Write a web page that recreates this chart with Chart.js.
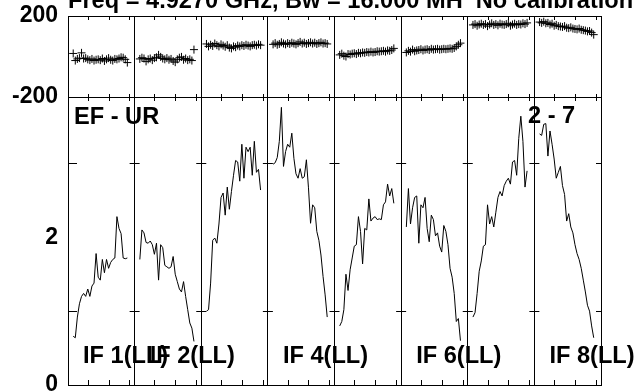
<!DOCTYPE html>
<html>
<head>
<meta charset="utf-8">
<script src="https://cdn.jsdelivr.net/npm/chart.js@4.4.1/dist/chart.umd.min.js"></script>
<style>
  html, body { margin: 0; padding: 0; background: #fff; }
</style>
</head>
<body>
<canvas id="c" width="639" height="392"></canvas>
<script>
const title = 'Freq = 4.9270 GHz, Bw = 16.000 MH  No calibration';
const baselineLabel = 'EF - UR';
const timeLabel = '2 - 7';
const panelLabels = ['IF 1(LL)', 'IF 2(LL)', '', 'IF 4(LL)', '', 'IF 6(LL)', '', 'IF 8(LL)'];

const channels = [3, 4, 5, 6, 7, 8, 9, 10, 11, 12, 13, 14, 15, 16, 17, 18, 19, 20, 21, 22, 23, 24, 25, 26, 27, 28, 29];
const chanTicks = [10, 20, 30];
const ampTicks = [1, 3];
const ampLabels = [0, 2];
const phaseLabels = [-200, 200];

const ampIF1 = [0.66, 0.64, 0.92, 1.10, 1.20, 1.24, 1.20, 1.30, 1.20, 1.34, 1.38, 1.78, 1.46, 1.42, 1.70, 1.52, 1.70, 1.58, 1.66, 1.70, 1.72, 2.28, 2.12, 2.05, 1.72, 1.71, 1.72];
const ampIF2 = [1.70, 2.10, 2.06, 1.93, 1.92, 1.95, 1.90, 1.77, 1.92, 1.42, 1.90, 1.86, 1.62, 1.60, 1.58, 1.60, 1.74, 1.50, 1.40, 1.30, 1.26, 1.40, 1.20, 1.02, 0.84, 0.77, 0.59];
const ampIF3 = [1.00, 1.02, 1.38, 1.96, 1.99, 1.92, 2.18, 2.54, 2.60, 2.30, 2.68, 2.38, 2.62, 2.84, 3.04, 3.02, 2.76, 3.26, 2.80, 3.22, 3.16, 3.22, 2.84, 3.30, 2.88, 2.92, 2.64];
const ampIF4 = [2.99, 3.01, 3.08, 3.30, 3.76, 2.96, 3.16, 3.26, 3.22, 3.41, 3.07, 2.86, 2.80, 2.93, 2.80, 2.82, 3.05, 2.67, 2.19, 2.44, 2.40, 2.08, 1.96, 1.76, 1.47, 1.22, 0.92];
const ampIF5 = [0.80, 0.86, 1.02, 1.50, 1.28, 1.56, 1.72, 1.88, 1.90, 2.28, 2.08, 1.64, 2.12, 2.10, 2.52, 2.22, 2.26, 2.28, 2.24, 2.25, 2.24, 2.44, 2.48, 2.72, 2.56, 2.66, 2.46];
const ampIF6 = [2.14, 2.66, 2.18, 2.40, 2.54, 2.56, 1.92, 2.44, 2.40, 2.54, 2.12, 1.94, 2.30, 2.24, 2.02, 2.06, 1.88, 1.80, 2.16, 2.08, 1.90, 1.58, 1.46, 1.24, 0.86, 0.90, 0.60];
const ampIF7 = [0.92, 0.98, 1.24, 1.54, 1.68, 1.88, 1.90, 2.44, 2.18, 2.28, 2.14, 2.34, 2.54, 2.62, 2.56, 2.70, 2.76, 2.80, 2.72, 3.02, 3.04, 2.84, 3.34, 3.64, 3.30, 2.68, 2.90];
const ampIF8 = [3.40, 3.38, 3.53, 3.54, 3.10, 3.44, 3.26, 3.06, 2.80, 2.88, 2.96, 2.70, 2.58, 2.22, 2.32, 2.14, 2.06, 1.90, 1.78, 1.70, 1.58, 1.42, 1.26, 1.08, 1.00, 0.80, 0.64];

const phaseIF1 = [15, -20, -12, -8, 18, -10, -8, -14, -18, -12, -20, -16, -14, -18, -10, -22, -14, -8, -16, -20, -12, -14, -10, -4, -6, -14, -30];
const phaseIF2 = [-12, -6, -10, -24, -14, -10, -18, -8, -4, 8, -2, -10, -14, -8, -16, -12, -22, -28, -14, -6, -2, -16, -10, -18, -14, -20, 34];
const phaseIF3 = [62, 50, 58, 52, 64, 56, 50, 60, 54, 48, 56, 44, 40, 50, 46, 54, 50, 56, 52, 58, 54, 50, 56, 58, 54, 60, 56];
const phaseIF4 = [60, 66, 58, 62, 70, 64, 60, 66, 62, 68, 64, 60, 66, 72, 64, 68, 62, 66, 70, 64, 68, 62, 66, 70, 64, 66, 62];
const phaseIF5 = [8, 14, 4, 0, 12, 10, 14, 16, 12, 18, 16, 20, 18, 22, 20, 24, 20, 22, 26, 24, 26, 28, 24, 30, 28, 32, 40];
const phaseIF6 = [20, 28, 24, 34, 26, 30, 32, 36, 30, 34, 36, 32, 38, 34, 36, 38, 34, 36, 38, 36, 38, 40, 38, 42, 50, 58, 66];
const phaseIF7 = [156, 160, 152, 158, 162, 156, 160, 150, 158, 164, 156, 160, 154, 162, 158, 156, 160, 164, 152, 158, 162, 156, 160, 158, 164, 160, 166];
const phaseIF8 = [170, 166, 172, 164, 166, 158, 162, 152, 156, 150, 148, 146, 150, 142, 140, 144, 138, 136, 134, 138, 132, 130, 128, 124, 126, 118, 108];

const amps = [ampIF1, ampIF2, ampIF3, ampIF4, ampIF5, ampIF6, ampIF7, ampIF8];
const phases = [phaseIF1, phaseIF2, phaseIF3, phaseIF4, phaseIF5, phaseIF6, phaseIF7, phaseIF8];
const nChan = 32;

const labelFont = 'bold 23.6px "Liberation Sans", Arial, sans-serif';
const tickFont = { family: '"Liberation Sans", Arial, sans-serif', size: 23, weight: 'bold' };

const datasets = [];
for (let p = 0; p < amps.length; p++) {
  datasets.push({
    data: channels.map((c, i) => ({ x: p * nChan + c - 0.5, y: amps[p][i] })),
    yAxisID: 'yAmp',
    borderColor: '#000',
    borderWidth: 1,
    pointRadius: 0,
    tension: 0,
  });
  datasets.push({
    data: channels.map((c, i) => ({ x: p * nChan + c - 0.5, y: phases[p][i] })),
    yAxisID: 'yPhase',
    showLine: false,
    pointStyle: 'cross',
    pointRadius: 4,
    pointBorderWidth: 1,
    borderColor: '#000',
    backgroundColor: '#000',
  });
}

// keep the end labels from pushing the plot area in
const noPad = s => { s.width = 68; s.paddingTop = 0; s.paddingBottom = 0; };

// frame ticks and text labels
const decor = {
  id: 'decor',
  afterDraw(chart) {
    const { ctx, chartArea: a, scales } = chart;
    const x = scales.x, yAmp = scales.yAmp, yPhase = scales.yPhase;
    ctx.save();
    ctx.strokeStyle = '#000';
    ctx.lineWidth = 1;
    ctx.beginPath();
    const mid = Math.round(yPhase.bottom);
    for (let p = 0; p < amps.length; p++) {
      for (const c of chanTicks) {
        const px = Math.round(x.getPixelForValue(p * nChan + c - 0.5)) + 0.5;
        ctx.moveTo(px, a.top); ctx.lineTo(px, a.top + 4);
        ctx.moveTo(px, mid - 3); ctx.lineTo(px, mid + 4);
        ctx.moveTo(px, a.bottom); ctx.lineTo(px, a.bottom - 5);
      }
    }
    for (let p = 0; p <= amps.length; p++) {
      const px = x.getPixelForValue(p * nChan);
      for (const v of ampTicks) {
        const py = Math.round(yAmp.getPixelForValue(v)) + 0.5;
        ctx.moveTo(Math.max(a.left, px - 5), py);
        ctx.lineTo(Math.min(a.right, p === 0 ? px + 9 : px + 5), py);
      }
    }
    ctx.stroke();

    ctx.fillStyle = '#000';
    ctx.font = labelFont;
    ctx.textBaseline = 'alphabetic';
    ctx.textAlign = 'left';
    ctx.fillText(title, a.left, 8);
    ctx.fillText(baselineLabel, a.left + 6, 124);
    ctx.fillText(timeLabel, 528, 123);
    panelLabels.forEach((t, p) => {
      if (t) ctx.fillText(t, x.getPixelForValue(p * nChan) + 15, 363);
    });
    ctx.restore();
  }
};

new Chart(document.getElementById('c'), {
  type: 'line',
  data: { datasets },
  options: {
    responsive: false,
    animation: false,
    layout: { padding: { top: 16, right: 38, bottom: 7, left: 0 } },
    plugins: { legend: { display: false }, tooltip: { enabled: false } },
    scales: {
      x: {
        type: 'linear',
        min: 0,
        max: nChan * amps.length,
        ticks: { display: false, stepSize: nChan },
        grid: { color: '#000', lineWidth: 1, drawTicks: false },
        border: { display: true, color: '#000' },
        afterFit: s => { s.height = 0; s.paddingLeft = 0; s.paddingRight = 0; },
      },
      yAmp: {
        type: 'linear',
        position: 'left',
        stack: 'v',
        stackWeight: 288,
        min: 0,
        max: 3.9,
        ticks: {
          stepSize: 1,
          includeBounds: false,
          padding: 10,
          color: '#000',
          font: tickFont,
          callback: v => ampLabels.includes(v) ? String(v) : '',
        },
        grid: { display: false, drawTicks: false },
        border: { display: true, color: '#000' },
        afterFit: noPad,
      },
      yPhase: {
        type: 'linear',
        position: 'left',
        stack: 'v',
        stackWeight: 81,
        min: -200,
        max: 200,
        ticks: {
          stepSize: 200,
          padding: 10,
          color: '#000',
          font: tickFont,
          callback: v => phaseLabels.includes(v) ? String(v) : '',
        },
        grid: { color: '#000', lineWidth: 1, drawTicks: false },
        border: { display: true, color: '#000' },
        afterFit: noPad,
      },
    },
  },
  plugins: [decor],
});
</script>
</body>
</html>
